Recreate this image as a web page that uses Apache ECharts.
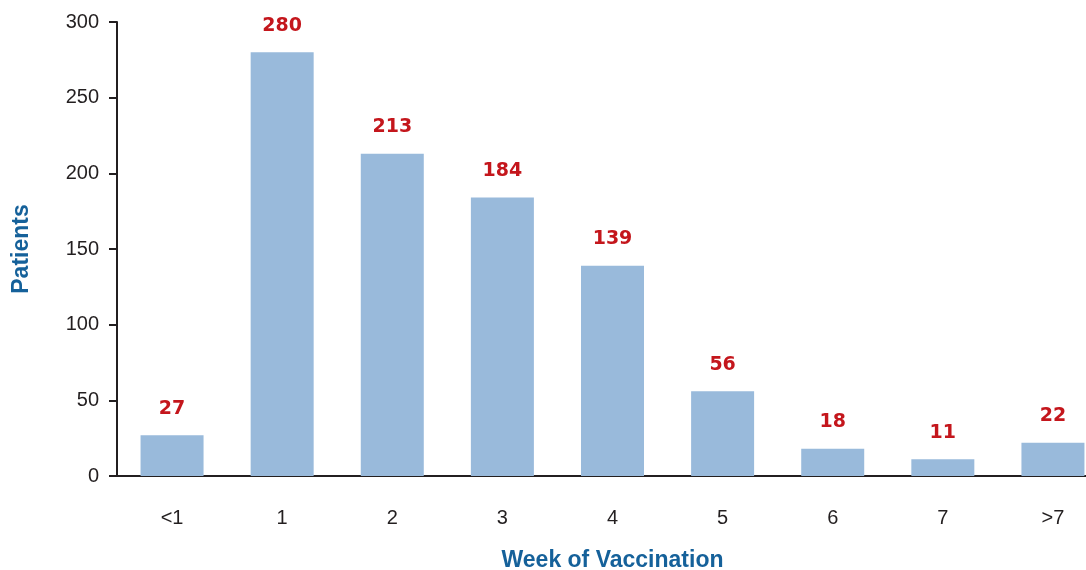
<!DOCTYPE html>
<html><head><meta charset="utf-8">
<script src="https://cdn.jsdelivr.net/npm/echarts@6/dist/echarts.min.js"></script>
<style>html,body{margin:0;padding:0;background:#fff}#c{width:1086px;height:570px}</style>
</head><body><div id="c"></div>
<script>
const categories = ['<1','1','2','3','4','5','6','7','>7'];
const patients = [27,280,213,184,139,56,18,11,22];
const yTicks = [0,50,100,150,200,250,300];

const chart = echarts.init(document.getElementById('c'));
chart.setOption({
  animation:false,
  grid:{left:117,right:-22,top:22,bottom:94,containLabel:false,outerBoundsMode:'none'},
  xAxis:{type:'category',data:categories,
    name:'Week of Vaccination',nameLocation:'middle',nameGap:73,
    nameTextStyle:{fontFamily:'Liberation Sans',fontWeight:'bold',fontSize:23,color:'#15619a'},
    axisLine:{lineStyle:{color:'#231f20',width:2}},axisTick:{show:false},
    axisLabel:{fontFamily:'Liberation Sans',fontSize:20,color:'#231f20',margin:32}},
  yAxis:{type:'value',min:yTicks[0],max:yTicks[yTicks.length-1],interval:50,
    name:'Patients',nameLocation:'middle',nameGap:84,
    nameTextStyle:{fontFamily:'Liberation Sans',fontWeight:'bold',fontSize:23,color:'#15619a'},
    axisLine:{show:true,lineStyle:{color:'#231f20',width:2}},
    axisTick:{show:true,length:8,lineStyle:{color:'#231f20',width:2}},
    splitLine:{show:false},
    axisLabel:{fontFamily:'Liberation Sans',fontSize:20,color:'#231f20',margin:18}},
  series:[{type:'bar',data:patients,barWidth:63,
    itemStyle:{color:'#99badb'},
    label:{show:true,position:'top',distance:17,fontFamily:'DejaVu Sans',fontWeight:'bold',fontSize:19,color:'#c4161c'}}]
});
</script></body></html>
